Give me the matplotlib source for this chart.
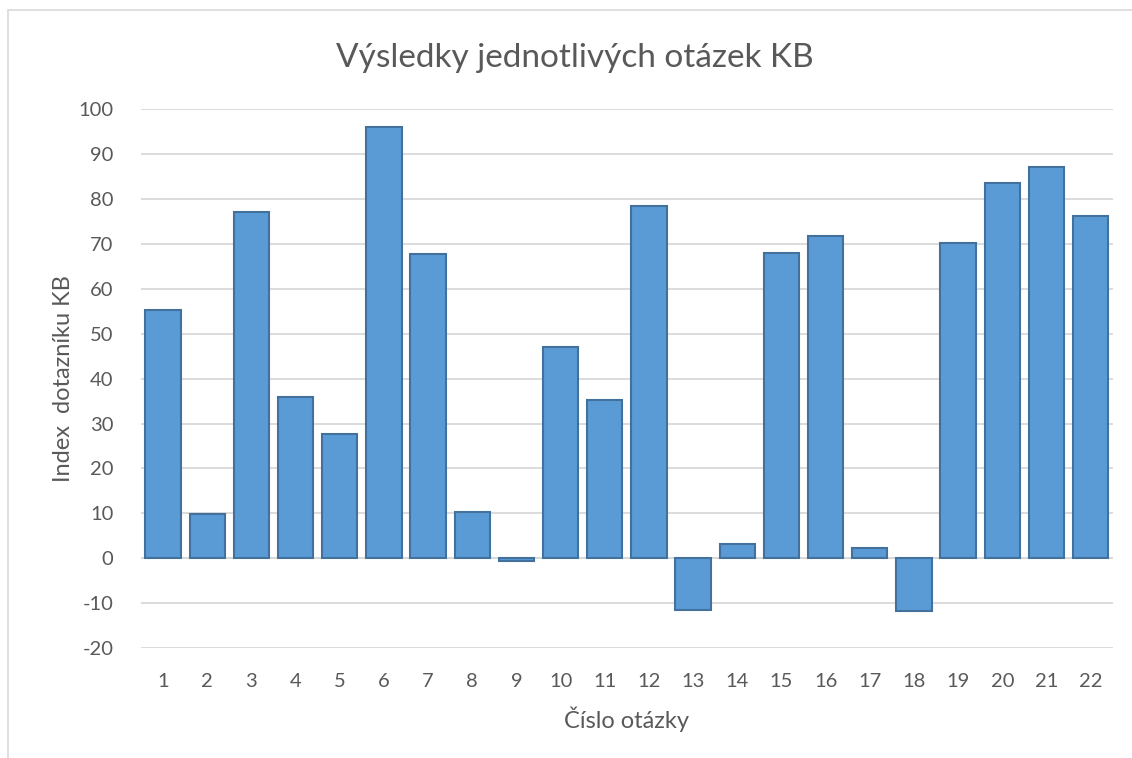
import matplotlib

matplotlib.use("Agg")
import matplotlib.pyplot as plt
from matplotlib.patches import Rectangle

plt.rcParams["font.family"] = ["Lato", "DejaVu Sans"]
plt.rcParams["axes.unicode_minus"] = False

questions = [str(i) for i in range(1, 23)]
values = [55.2, 9.8, 77.1, 35.9, 27.6, 96.0, 67.7, 10.2, -0.7, 47.0, 35.2,
          78.4, -11.6, 3.1, 67.9, 71.7, 2.2, -11.8, 70.2, 83.5, 87.1, 76.2]
yticks = list(range(-20, 101, 10))

text_color = "#595959"
grid_color = "#d9d9d9"

fig = plt.figure(figsize=(11.32, 7.58), dpi=100)
ax = fig.add_axes([0.1246, 0.145, 0.8584, 0.711])

x = range(len(questions))
ax.bar(x, values, width=0.8, color="#5b9bd5", edgecolor="#41719c",
       linewidth=1.5, zorder=3)

ax.set_xlim(-0.5, len(questions) - 0.5)
ax.set_ylim(-20, 100)
ax.set_yticks(yticks)
ax.set_xticks(list(x))
ax.set_xticklabels(questions)
ax.grid(axis="y", color=grid_color, linewidth=1.3, zorder=0)
ax.axhline(0, color=grid_color, linewidth=1.3, zorder=2)
for s in ax.spines.values():
    s.set_visible(False)
ax.tick_params(length=0, labelsize=14.5, colors=text_color, pad=18)
ax.tick_params(axis="y", pad=20)

ax.set_xlabel("Číslo otázky", fontsize=17, color=text_color, labelpad=12)
ax.set_ylabel("Index  dotazníku KB", fontsize=17, color=text_color, labelpad=3)
fig.text(0.508, 0.923, "Výsledky jednotlivých otázek KB", ha="center", va="center",
         fontsize=24, color=text_color)

# chart-area border, running off the right and bottom edges
fig.patches.append(Rectangle((0.0075, -0.05), 1.1, 1.0365, transform=fig.transFigure,
                             fill=False, edgecolor="#d9d9d9", linewidth=1.2))

fig.savefig("out.png", dpi=100)
